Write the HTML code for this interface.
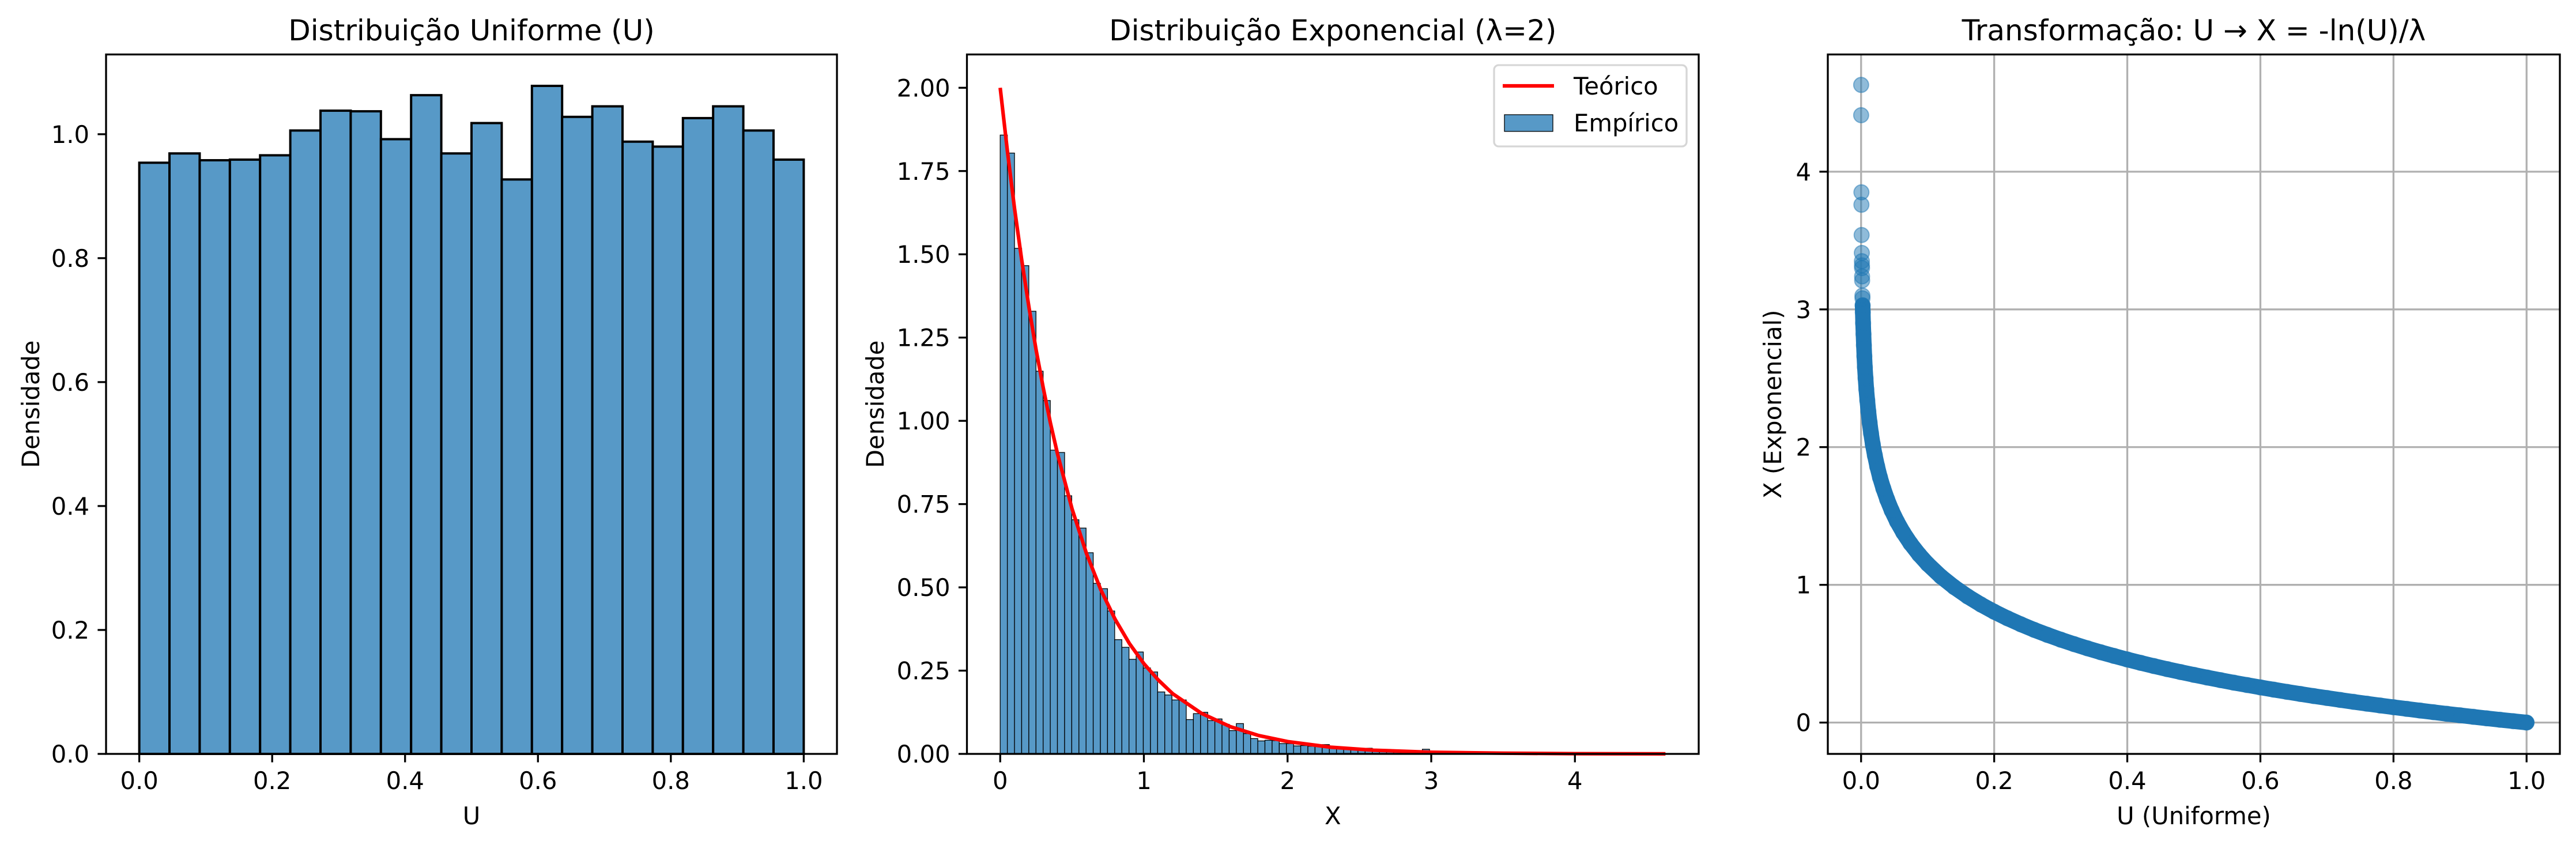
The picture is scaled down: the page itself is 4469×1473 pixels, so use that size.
<!DOCTYPE html>
<html><head><meta charset="utf-8"><style>
html,body{margin:0;padding:0;background:#fff;}
svg text{font-family:"DejaVu Sans","Liberation Sans",sans-serif;fill:#000;}
</style></head><body>
<svg id="fig" xmlns="http://www.w3.org/2000/svg" width="4469" height="1468" viewBox="0 0 4469 1468">
<rect width="4469" height="1468" fill="#fff"/>
</svg>
<script>
// ---------- Panel 1 data: uniform histogram (22 bins over [0,1]) ----------
const uniformDensity = [0.954,0.969,0.958,0.959,0.966,1.006,1.038,1.037,0.992,1.063,0.969,1.018,0.927,1.078,1.028,1.045,0.988,0.980,1.026,1.045,1.006,0.959];
const uniformXTicks = [0,0.2,0.4,0.6,0.8,1.0];
const uniformXTickLabels = ["0.0","0.2","0.4","0.6","0.8","1.0"];
const uniformYTicks = [0,0.2,0.4,0.6,0.8,1.0];
const uniformYTickLabels = ["0.0","0.2","0.4","0.6","0.8","1.0"];

// ---------- Panel 2 data: exponential histogram ----------
const expBinWidth = 0.0498;
const expDensity = [1.858,1.804,1.518,1.466,1.329,1.149,1.061,0.912,0.905,0.775,
0.703,0.678,0.604,0.512,0.496,0.429,0.343,0.320,0.284,0.306,
0.258,0.246,0.186,0.177,0.162,0.162,0.103,0.121,0.125,0.100,
0.105,0.089,0.070,0.091,0.061,0.046,0.039,0.041,0.040,0.031,
0.031,0.024,0.025,0.023,0.023,0.028,0.020,0.017,0.015,0.013,
0.012,0.017,0.010,0.008,0.009,0.007,0.006,0.005,0.006,0.014,
0.004,0.003,0.004,0.002,0.003,0.002,0.002,0.001,0.002,0.001,
0.001,0.000,0.001,0.001,0.000,0.000,0.001,0.000,0.000,0.000,
0.000,0.000,0.000,0.000,0.000,0.000,0.000,0.000,0.000,0.000,
0.001,0.000,0.001];
const theoX = [0,0.05,0.1,0.15,0.2,0.25,0.3,0.35,0.4,0.5,0.6,0.7,0.8,0.9,1.0,1.1,1.2,1.4,1.6,1.8,2.0,2.3,2.6,3.0,3.5,4.0,4.63];
const theoY = [2.0,1.810,1.637,1.482,1.341,1.213,1.098,0.993,0.899,0.736,0.602,0.493,0.404,0.331,0.271,0.222,0.181,0.122,0.082,0.055,0.037,0.020,0.011,0.005,0.002,0.0007,0.0002];
const expXTicks = [0,1,2,3,4];
const expXTickLabels = ["0","1","2","3","4"];
const expYTicks = [0,0.25,0.5,0.75,1.0,1.25,1.5,1.75,2.0];
const expYTickLabels = ["0.00","0.25","0.50","0.75","1.00","1.25","1.50","1.75","2.00"];

// ---------- Panel 3 data: scatter U vs X ----------
const scatterU = [1.00,0.98,0.96,0.94,0.92,0.90,0.88,0.86,0.84,0.82,0.80,0.78,0.76,0.74,0.72,0.70,0.68,0.66,0.64,0.62,0.60,0.58,0.56,0.54,0.52,0.50,0.48,0.46,0.44,0.42,0.40,0.38,0.36,0.34,0.32,0.30,0.28,0.26,0.24,0.22,0.20,0.18,0.16,0.14,0.12,0.10,
0.0872,0.0743,0.0633,0.0539,0.0460,0.0392,0.0334,0.0284,0.0242,0.0207,0.0176,0.0150,0.0128,0.0109,0.0093,0.0079,0.0067,0.0057,0.0049,0.0042,0.0036,0.0030,0.0026,
0.0023,0.0021,0.0020,0.0016,0.0015,0.0014,0.0013,0.0012,0.0011,0.0008,0.0005,0.0005,0.0001,0.0001];
const scatterX = [0,0.0101,0.0204,0.0309,0.0417,0.0527,0.0639,0.0754,0.0872,0.0992,0.1116,0.1242,0.1372,0.1506,0.1643,0.1783,0.1928,0.2078,0.2231,0.2390,0.2554,0.2724,0.2899,0.3081,0.3270,0.3466,0.3670,0.3883,0.4105,0.4338,0.4581,0.4838,0.5108,0.5394,0.5697,0.6020,0.6365,0.6735,0.7136,0.7571,0.8047,0.8574,0.9163,0.9831,1.0601,1.1513,
1.22,1.30,1.38,1.46,1.54,1.62,1.70,1.78,1.86,1.94,2.02,2.10,2.18,2.26,2.34,2.42,2.50,2.58,2.66,2.74,2.82,2.90,2.98,
3.03,3.08,3.10,3.21,3.24,3.30,3.32,3.35,3.41,3.54,3.76,3.85,4.41,4.63];
const scatterXTicks = [0,0.2,0.4,0.6,0.8,1.0];
const scatterXTickLabels = ["0.0","0.2","0.4","0.6","0.8","1.0"];
const scatterYTicks = [0,1,2,3,4];
const scatterYTickLabels = ["0","1","2","3","4"];
const denseBandMaxX = 3.05;

const NS = "http://www.w3.org/2000/svg";
const svg = document.getElementById('fig');
function mk(tag, attrs, parent){
  const e = document.createElementNS(NS, tag);
  for (const k in attrs) e.setAttribute(k, attrs[k]);
  (parent||svg).appendChild(e);
  return e;
}
const BAR = "#5799c7";
const TOP = 94.5, BOT = 1308;
const FS = 41.7;

function makeAxes(name, L, R, xmin, xmax, ymin, ymax){
  const g = mk('g', {});
  
  
  const sx = v => L + (v - xmin) / (xmax - xmin) * (R - L);
  const sy = v => BOT - (v - ymin) / (ymax - ymin) * (BOT - TOP);
  return {g, sx, sy, L, R};
}
function drawTicks(ax, xt, xl, yt, yl, grid){
  const gx = mk('g', {}, ax.g);
  
  
  xt.forEach((v,i)=>{
    const x = ax.sx(v);
    if (grid) mk('line',{x1:x,x2:x,y1:TOP,y2:BOT,stroke:'#b0b0b0','stroke-width':3.3},ax.gridG);
    mk('line',{x1:x,x2:x,y1:BOT,y2:BOT+14.6,stroke:'#000','stroke-width':3.3},gx);
    const t = mk('text',{x:x,y:1369,'font-size':FS,'text-anchor':'middle'},gx);
    t.textContent = xl[i];
    
    
  });
  const gy = mk('g', {}, ax.g);
  
  
  yt.forEach((v,i)=>{
    const y = ax.sy(v);
    if (grid) mk('line',{x1:ax.L,x2:ax.R,y1:y,y2:y,stroke:'#b0b0b0','stroke-width':3.3},ax.gridG);
    mk('line',{x1:ax.L-14.6,x2:ax.L,y1:y,y2:y,stroke:'#000','stroke-width':3.3},gy);
    const t = mk('text',{x:ax.L-29,y:y+15,'font-size':FS,'text-anchor':'end'},gy);
    t.textContent = yl[i];
    
    
  });
}
function frame(ax){
  mk('rect',{x:ax.L,y:TOP,width:ax.R-ax.L,height:BOT-TOP,fill:'none',stroke:'#000','stroke-width':3.3},ax.g);
}
function labels(ax, title, xlab, ylab, ylx){
  const cx = (ax.L+ax.R)/2;
  const t = mk('text',{x:cx,y:70,'font-size':50,'text-anchor':'middle'},ax.g);
  t.textContent = title;
  
  
  const xl = mk('text',{x:cx,y:1430,'font-size':FS,'text-anchor':'middle'},ax.g);
  xl.textContent = xlab;
  
  
  const yl = mk('text',{x:ylx,y:(TOP+BOT)/2,'font-size':FS,'text-anchor':'middle',transform:`rotate(-90 ${ylx} ${(TOP+BOT)/2})`},ax.g);
  yl.textContent = ylab;
  
  
}

// ---------- Panel 1 ----------
{
  const ax = makeAxes('uniform-histogram-panel', 184, 1452, -0.05, 1.05, 0, 1.1287);
  const w = 1/uniformDensity.length;
  uniformDensity.forEach((d,i)=>{
    const x0 = ax.sx(i*w), x1 = ax.sx((i+1)*w);
    const r = mk('rect',{x:x0,y:ax.sy(d),width:x1-x0,height:ax.sy(0)-ax.sy(d),fill:BAR,stroke:'#000','stroke-width':4},ax.g);
    
    
  });
  frame(ax);
  drawTicks(ax, uniformXTicks, uniformXTickLabels, uniformYTicks, uniformYTickLabels, false);
  labels(ax, 'Distribuição Uniforme (U)', 'U', 'Densidade', 68);
}
// ---------- Panel 2 ----------
{
  const ax = makeAxes('exponential-histogram-panel', 1677.5, 2947, -0.2315, 4.8615, 0, 2.1);
  expDensity.forEach((d,i)=>{
    if (d<=0) return;
    const x0 = ax.sx(i*expBinWidth), x1 = ax.sx((i+1)*expBinWidth);
    const r = mk('rect',{x:x0,y:ax.sy(d),width:x1-x0,height:ax.sy(0)-ax.sy(d),fill:BAR,stroke:'#000','stroke-width':1.3},ax.g);
    
    
  });
  const pts = theoX.map((x,i)=>ax.sx(x).toFixed(1)+','+ax.sy(theoY[i]).toFixed(1)).join(' ');
  const pl = mk('polyline',{points:pts,fill:'none',stroke:'#ff0000','stroke-width':6.25,'stroke-linejoin':'round'},ax.g);
  
  
  frame(ax);
  drawTicks(ax, expXTicks, expXTickLabels, expYTicks, expYTickLabels, false);
  labels(ax, 'Distribuição Exponencial (λ=2)', 'X', 'Densidade', 1533);
  const lg = mk('g',{},ax.g);
  
  
  mk('rect',{x:2592,y:113,width:334,height:141,rx:8,fill:'#fff','fill-opacity':0.8,stroke:'#d6d6d6','stroke-width':3.3},lg);
  mk('line',{x1:2607,x2:2696,y1:149,y2:149,stroke:'#ff0000','stroke-width':6.25},lg);
  const t1 = mk('text',{x:2730,y:164,'font-size':FS},lg); t1.textContent='Teórico';
  
  
  mk('rect',{x:2610,y:199,width:84,height:29,fill:BAR,stroke:'#000','stroke-width':1.3},lg);
  const t2 = mk('text',{x:2730,y:228,'font-size':FS},lg); t2.textContent='Empírico';
  
  
}
// ---------- Panel 3 ----------
{
  const ax = makeAxes('scatter-panel', 3171, 4441, -0.05, 1.05, -0.2275, 4.851);
  ax.gridG = mk('g',{},ax.g);
  
  
  drawTicks(ax, scatterXTicks, scatterXTickLabels, scatterYTicks, scatterYTickLabels, true);
  const pg = mk('g',{},ax.g);
  
  
  // dense overlapping markers form a solid band
  const bandPts = scatterU.map((u,i)=>[u,scatterX[i]]).filter(p=>p[1]<=denseBandMaxX)
    .map(p=>ax.sx(p[0]).toFixed(1)+','+ax.sy(p[1]).toFixed(1)).join(' ');
  const band = mk('polyline',{points:bandPts,fill:'none',stroke:'#1f77b4','stroke-width':27,'stroke-linecap':'round','stroke-linejoin':'round'},pg);
  
  
  scatterU.forEach((u,i)=>{
    const c = mk('circle',{cx:ax.sx(u),cy:ax.sy(scatterX[i]),r:13,fill:'#1f77b4','fill-opacity':0.5,stroke:'#1f77b4','stroke-opacity':0.5,'stroke-width':2},pg);
    
    
  });
  frame(ax);
  labels(ax, 'Transformação: U → X = -ln(U)/λ', 'U (Uniforme)', 'X (Exponencial)', 3090);
}
</script>
</body></html>
